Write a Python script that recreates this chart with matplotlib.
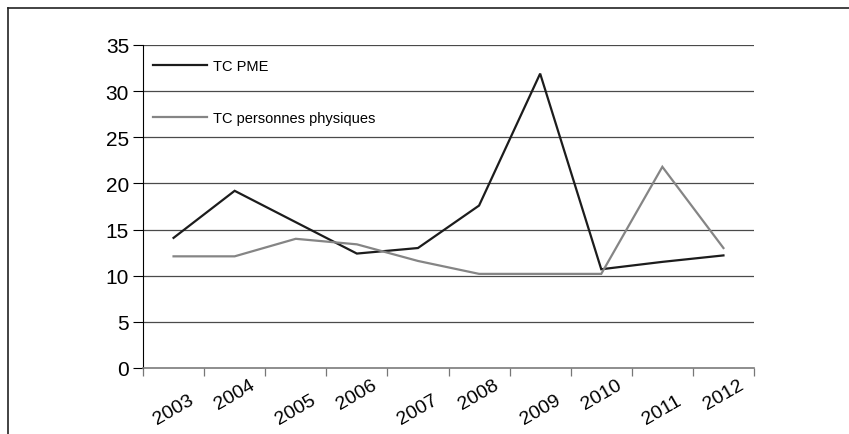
import matplotlib.pyplot as plt
from matplotlib.lines import Line2D

# Data
years = ['2003', '2004', '2005', '2006', '2007', '2008', '2009', '2010', '2011', '2012']
tc_pme = [14.1, 19.2, 15.8, 12.4, 13.0, 17.6, 31.9, 10.7, 11.5, 12.2]
tc_physiques = [12.1, 12.1, 14.0, 13.4, 11.6, 10.2, 10.2, 10.2, 21.8, 13.0]
y_ticks = [0, 5, 10, 15, 20, 25, 30, 35]

plt.rcParams['font.family'] = ['Liberation Sans', 'DejaVu Sans']

fig = plt.figure(figsize=(8.49, 4.35), dpi=100)
ax = fig.add_axes([143 / 849, 1 - 369 / 435, 611 / 849, 323 / 435])

x = list(range(len(years)))
ax.plot(x, tc_pme, color='#1c1c1c', lw=1.6, label='TC PME', solid_joinstyle='miter')
ax.plot(x, tc_physiques, color='#858585', lw=1.6, label='TC personnes physiques',
        solid_joinstyle='miter')

ax.set_xlim(-0.5, len(years) - 0.5)
ax.set_ylim(0, 35)
ax.set_yticks(y_ticks)
ax.set_yticklabels([str(v) for v in y_ticks], fontsize=15)
ax.tick_params(axis='y', direction='out', length=7, width=0.8, pad=3, colors='black')

# horizontal grid lines
for v in y_ticks[1:]:
    ax.axhline(v, color='#4a4a4a', lw=0.9, zorder=0)

# category boundary ticks on x axis, labels staggered and rotated
ax.set_xticks([i - 0.5 for i in range(len(years) + 1)])
ax.set_xticklabels([])
ax.tick_params(axis='x', direction='out', length=6, width=0.9, color='#777777')
for i, yr in enumerate(years):
    dy = -30 if i % 2 == 0 else -19
    ax.annotate(yr, xy=(i, 0), xycoords=('data', 'axes fraction'),
                xytext=(0, dy), textcoords='offset points',
                ha='center', va='center', rotation=30, fontsize=14)

for s in ['top', 'right']:
    ax.spines[s].set_visible(False)
ax.spines['left'].set_color('black')
ax.spines['left'].set_linewidth(0.8)
ax.spines['bottom'].set_color('#7a7a7a')
ax.spines['bottom'].set_linewidth(1.2)

ax.legend(loc='upper left', bbox_to_anchor=(0.016, 0.957), frameon=False,
          fontsize=10.5, labelspacing=2.6, handlelength=3.7, handletextpad=0.45,
          borderpad=0, borderaxespad=0)

# outer frame (top and left edges)
fig.add_artist(Line2D([8 / 849, 1], [1 - 9 / 435] * 2, color='#222222', lw=1.2,
                      transform=fig.transFigure))
fig.add_artist(Line2D([8 / 849] * 2, [0, 1 - 9 / 435], color='#222222', lw=1.2,
                      transform=fig.transFigure))

fig.savefig('out.png', dpi=100)
